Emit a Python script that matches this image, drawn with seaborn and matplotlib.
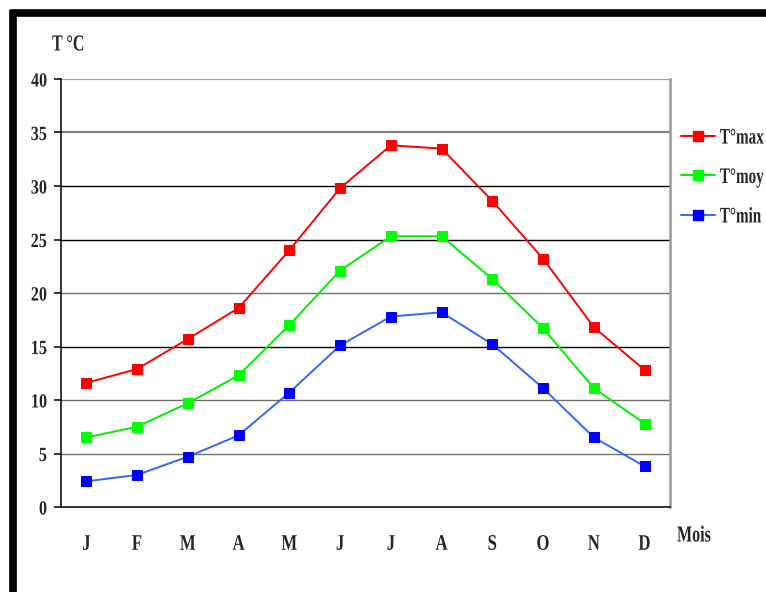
import matplotlib
matplotlib.use("Agg")
import matplotlib.pyplot as plt
from matplotlib.lines import Line2D
from matplotlib.patheffects import AbstractPathEffect
from matplotlib.transforms import Affine2D
import seaborn as sns
import pandas as pd
import numpy as np

months = ["J", "F", "M", "A", "M", "J", "J", "A", "S", "O", "N", "D"]
t_max = [11.6, 12.9, 15.7, 18.6, 24.0, 29.8, 33.8, 33.5, 28.6, 23.2, 16.8, 12.8]
t_moy = [6.5, 7.5, 9.7, 12.3, 17.0, 22.1, 25.3, 25.3, 21.3, 16.7, 11.1, 7.8]
t_min = [2.4, 3.0, 4.7, 6.7, 10.7, 15.1, 17.8, 18.2, 15.2, 11.1, 6.5, 3.8]
series_names = ["T°max", "T°moy", "T°min"]
y_ticks = [0, 5, 10, 15, 20, 25, 30, 35, 40]


class Condense(AbstractPathEffect):
    """Squeeze a text horizontally around an anchor (0 left, 0.5 centre, 1 right)."""

    def __init__(self, sx, anchor=0.0):
        super().__init__()
        self.sx = sx
        self.anchor = anchor

    def draw_path(self, renderer, gc, tpath, affine, rgbFace=None):
        v = tpath.vertices
        ref = 0.0
        if len(v):
            x0, x1 = v[:, 0].min(), v[:, 0].max()
            ref = x0 + self.anchor * (x1 - x0)
        t = Affine2D().translate(-ref, 0).scale(self.sx, 1).translate(ref, 0) + affine
        renderer.draw_path(gc, tpath, t, rgbFace)


sns.set_theme(style="white")
plt.rcParams["font.family"] = ["Liberation Serif", "DejaVu Serif"]
plt.rcParams["font.weight"] = "bold"

pos = np.arange(len(months))
df = pd.DataFrame({
    "pos": np.tile(pos, 3),
    "temp": t_max + t_moy + t_min,
    "serie": np.repeat(series_names, len(months)),
})

fig = plt.figure(figsize=(7.66, 5.92), dpi=100)
ax = fig.add_axes([61 / 766, 1 - 507 / 592, (670 - 61) / 766, (507 - 79) / 592])

styles = {
    "T°max": dict(line="#ff0000", face="#ff0000"),
    "T°moy": dict(line="#00ee00", face="#00ff00"),
    "T°min": dict(line="#3366ff", face="#0000ff"),
}

# horizontal grid
grid_style = {5: ("#707070", 1.0), 10: ("#707070", 1.0), 15: ("#000000", 1.0),
              20: ("#707070", 1.0), 25: ("#000000", 1.0), 30: ("#000000", 1.0),
              35: ("#808080", 1.6), 40: ("#a0a0a0", 1.6)}
for v, (c, w) in grid_style.items():
    ax.axhline(v, color=c, lw=w, zorder=0)

handles = []
for name in series_names:
    st = styles[name]
    sns.lineplot(data=df[df["serie"] == name], x="pos", y="temp", ax=ax,
                 color=st["line"], lw=1.4, marker="s", markersize=7,
                 markerfacecolor=st["face"], markeredgecolor=st["face"],
                 legend=False, zorder=3)
    handles.append(Line2D([], [], color=st["line"], lw=1.4, marker="s",
                          markersize=7, markerfacecolor=st["face"],
                          markeredgecolor=st["face"], label=name))

ax.set_xlim(-0.5, len(months) - 0.5)
ax.set_ylim(0, 40)
ax.set_yticks(y_ticks)
ax.set_yticklabels([str(v) for v in y_ticks], fontsize=14.5, fontweight="bold")
ax.set_xticks(pos)
ax.set_xticklabels(months, fontsize=16, fontweight="bold")
ax.set_xticks(np.arange(-0.5, len(months)), minor=True)
ax.tick_params(axis="x", which="major", length=0, pad=20)
ax.tick_params(axis="x", which="minor", length=6, width=1.1, color="black", direction="out")
ax.tick_params(axis="y", which="major", length=5, width=1.1, color="black", direction="out", pad=5, left=True)
ax.set_xlabel("")
ax.set_ylabel("")

for side in ["left", "bottom"]:
    ax.spines[side].set_color("black")
    ax.spines[side].set_linewidth(1.1)
ax.spines["top"].set_visible(False)
ax.spines["right"].set_color("#999999")
ax.spines["right"].set_linewidth(1.8)

squeeze_left = [Condense(0.7, 0.0)]
fig.text(52 / 766, 1 - 45 / 592, "T °C", fontsize=16.5, fontweight="bold",
         va="center", ha="left", path_effects=squeeze_left)
fig.text(677 / 766, 1 - 536 / 592, "Mois", fontsize=16.5, fontweight="bold",
         va="center", ha="left", path_effects=squeeze_left)

leg = ax.legend(handles=handles, loc="upper left", bbox_to_anchor=(681 / 766, 1 - 128 / 592),
                bbox_transform=fig.transFigure, frameon=False,
                prop={"weight": "bold", "size": 16}, handlelength=1.55, handletextpad=0.2,
                labelspacing=0.85, borderaxespad=0, borderpad=0)
for t in leg.get_texts():
    t.set_path_effects([Condense(0.68, 0.0)])

for lab in ax.get_xticklabels():
    lab.set_path_effects([Condense(0.75, 0.5)])
for lab in ax.get_yticklabels():
    lab.set_path_effects([Condense(0.8, 1.0)])

# thick frame along the top and left edges
fig.add_artist(Line2D([10 / 766, 1], [1 - 13 / 592, 1 - 13 / 592], color="black", lw=5.5,
                      transform=fig.transFigure, solid_capstyle="butt"))
fig.add_artist(Line2D([13 / 766, 13 / 766], [0, 1 - 10 / 592], color="black", lw=5.5,
                      transform=fig.transFigure, solid_capstyle="butt"))

fig.savefig("out.png", dpi=100, facecolor="white")
